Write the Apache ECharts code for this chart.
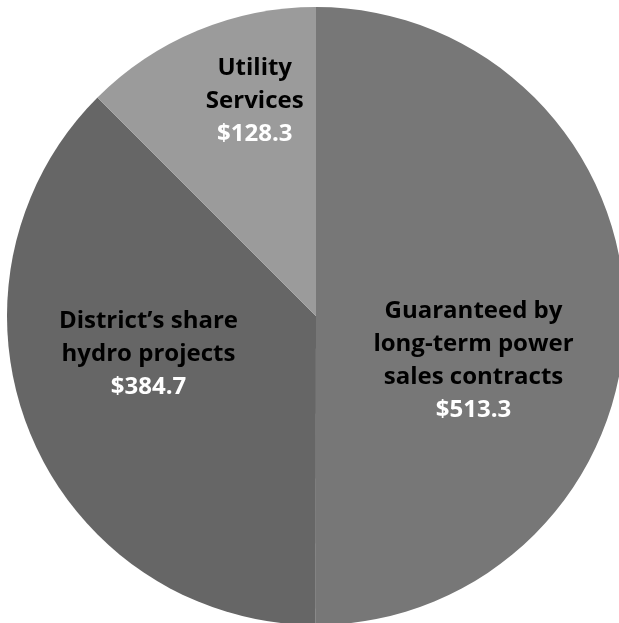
<!DOCTYPE html>
<html>
<head>
<meta charset="utf-8">
<script src="https://cdn.jsdelivr.net/npm/echarts@6/dist/echarts.min.js"></script>
<style>
  html, body { margin: 0; padding: 0; background: #fff; }
  #chart { width: 619px; height: 623px; }
</style>
</head>
<body>
<div id="chart"></div>
<script>
// data (millions)
const names = ['Guaranteed by\nlong-term power\nsales contracts', 'District\u2019s share\nhydro projects', 'Utility\nServices'];
const values = [513.3, 384.7, 128.3];
const colors = ['#777777', '#666666', '#9b9b9b'];
const labelOffsets = [[0, 45], [-22, -22], [-1, -69]];

const chart = echarts.init(document.getElementById('chart'));

const option = {
    animation: false,
    backgroundColor: '#ffffff',
    series: [
        {
            type: 'pie',
            center: [316, 316],
            radius: 309,
            startAngle: 90,
            clockwise: true,
            silent: true,
            data: names.map((n, i) => ({
                name: n,
                value: values[i],
                itemStyle: { color: colors[i] },
                label: { offset: labelOffsets[i] }
            })),
            label: {
                show: true,
                position: 'inside',
                formatter: p => '{n|' + p.name + '}\n{v|$' + p.value.toFixed(1) + '}',
                rich: {
                    n: {
                        color: '#000',
                        fontFamily: 'Open Sans',
                        fontWeight: 'bold',
                        fontSize: 24,
                        lineHeight: 33,
                        align: 'center'
                    },
                    v: {
                        color: '#fff',
                        fontFamily: 'Open Sans',
                        fontWeight: 'bold',
                        fontSize: 24,
                        lineHeight: 33,
                        align: 'center'
                    }
                }
            },
            labelLine: { show: false }
        }
    ]
};

chart.setOption(option);
</script>
</body>
</html>
